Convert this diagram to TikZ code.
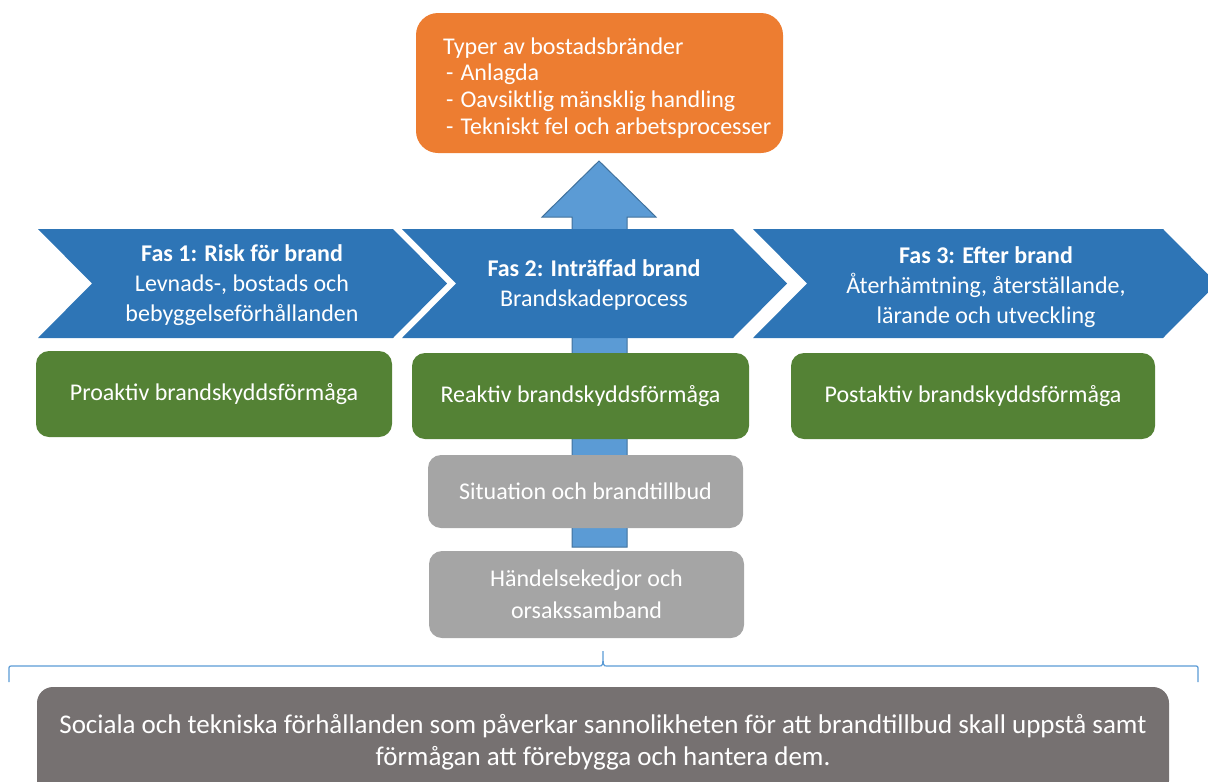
\documentclass[tikz,border=0pt]{standalone}
\usepackage{fontspec}
\setmainfont{Carlito}
\definecolor{fasblue}{HTML}{2E75B6}
\definecolor{pilblue}{HTML}{5B9BD5}
\definecolor{pilkant}{HTML}{41719C}
\definecolor{typorange}{HTML}{ED7D31}
\definecolor{formgreen}{HTML}{548235}
\definecolor{ljusgra}{HTML}{A5A5A5}
\definecolor{morkgra}{HTML}{767171}
\tikzset{
  ruta/.style={rounded corners=13pt, text=white, align=center, inner sep=0pt,
    font=\fontsize{24}{30}\selectfont},
  formaga/.style={ruta, fill=formgreen, minimum height=86pt},
  handelse/.style={ruta, fill=ljusgra, font=\fontsize{24}{32}\selectfont},
  fastext/.style={text=white, align=center, font=\fontsize{24}{30}\selectfont},
  typtext/.style={text=white, anchor=base west, inner sep=0pt, font=\fontsize{24}{27}\selectfont}
}
\begin{document}
\begin{tikzpicture}[x=1pt,y=-1pt]
        \useasboundingbox (0,0) rectangle (1208,782);
        % pil upp (bakom allt)
        \filldraw [fill=pilblue,draw=pilkant,line width=1pt] (572,547)--(572,217)--(542,217)--(599,161)--(656,217)--(627,217)--(627,547)--cycle;
        % orange ruta
        \node [ruta,rounded corners=22pt,fill=typorange,minimum width=367pt,minimum height=140pt] (typer) at (599.5,83) {};
        \node [typtext] (typ0) at (443,54) {Typer av bostadsbränder};
        \foreach \t [count=\i] in {Anlagda,Oavsiktlig mänsklig handling,Tekniskt fel och arbetsprocesser}{
        \node [typtext] (typ\i) at (446,54+\i*26.7) {-\hspace{7pt}\t};
        }
        % faser
        \foreach \a/\b in {38/393,402/733,753/1163}{
        \fill [fasblue] (\a,229)--(\b,229)--(\b+54,283.5)--(\b,338)--(\a,338)--(\a+54,283.5)--cycle;
        }
        \node [fastext] (fas1) at (242,285) {\textbf{Fas 1: Risk för brand}\\Levnads-, bostads och\\bebyggelseförhållanden};
        \node [fastext] (fas2) at (594,285) {\textbf{Fas 2: Inträffad brand}\\Brandskadeprocess};
        \node [fastext] (fas3) at (986,287) {\textbf{Fas 3: Efter brand}\\Återhämtning, återställande,\\lärande och utveckling};
        % förmågor
        \node [formaga,minimum width=356pt] (proaktiv) at (214,394) {Proaktiv brandskyddsförmåga};
        \node [formaga,minimum width=337pt] (reaktiv) at (580.5,396) {Reaktiv brandskyddsförmåga};
        \node [formaga,minimum width=364pt] (postaktiv) at (973,396) {Postaktiv brandskyddsförmåga};
        % situation
        \node [handelse,minimum width=315pt,minimum height=73pt] (situation) at (585.5,491.5) {Situation och brandtillbud};
        \node [handelse,minimum width=315pt,minimum height=87pt] (kedjor) at (586.5,594.5) {Händelsekedjor och\\orsakssamband};
        % klammer
        \coordinate (kv) at (9,682);
        \coordinate (kt) at (603,651);
        \coordinate (kh) at (1198,682);
        \draw [pilblue,line width=1.2pt] (kv)--(9,670) .. controls (9,666) .. (13,666)--(599,666) .. controls (603,666) .. (kt) .. controls (603,666) .. (607,666)--(1194,666) .. controls (1198,666) .. (1198,670)--(kh);
        \node [ruta,rounded corners=16pt,fill=morkgra,minimum width=1132pt,minimum height=110pt,font=\fontsize{27}{32}\selectfont] (sociala) at (603,742) {Sociala och tekniska förhållanden som påverkar sannolikheten för att brandtillbud skall uppstå samt\\förmågan att förebygga och hantera dem.};
    \end{tikzpicture}
\end{document}
